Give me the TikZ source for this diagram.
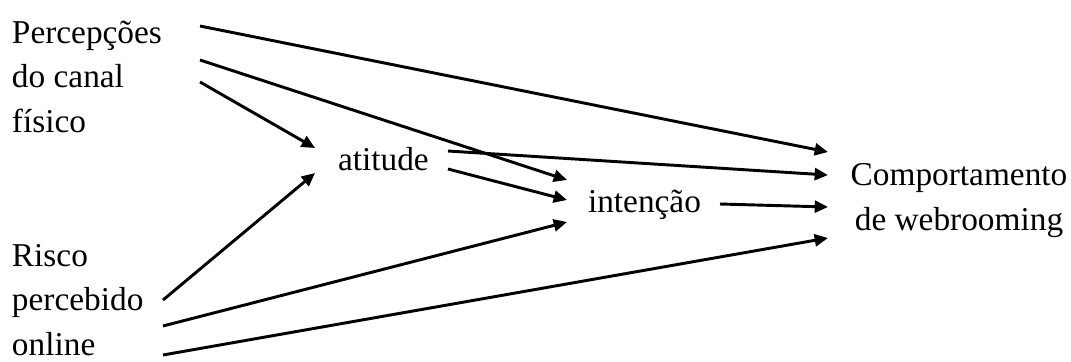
\documentclass[tikz,border=0pt]{standalone}
\usepackage{fontspec}
\setmainfont{Liberation Serif}
\usetikzlibrary{arrows.meta}
\begin{document}
\begin{tikzpicture}[x=0.75pt,y=-0.75pt,
  lbl/.style={inner sep=0pt,outer sep=0pt,font=\fontsize{25pt}{33.3pt}\selectfont},
  conn/.style={line width=2.2pt,-{Triangle[length=10pt,width=9pt]}}]
\useasboundingbox (0,0) rectangle (1071,361);
\node[lbl,anchor=base west,align=left] (perc) at (12,132) {Percepções\\do canal\\físico};
\node[lbl,anchor=base west,align=left] (risco) at (12,355) {Risco\\percebido\\online};
\node[lbl,anchor=base west] (atit) at (338,170) {atitude};
\node[lbl,anchor=base west] (int) at (588,212) {intenção};
\node[lbl,anchor=base,align=center] (comp) at (959,230) {Comportamento\\de webrooming};
% connector end points
\coordinate (pa) at (200,26);
\coordinate (pb) at (200,60);
\coordinate (pc) at (200,82);
\coordinate (ra) at (163,300);
\coordinate (rb) at (163,326);
\coordinate (rc) at (163,355);
\coordinate (aa) at (448,151);
\coordinate (ab) at (448,169);
\coordinate (ia) at (720,204);
\coordinate (ai) at (315,148);
\coordinate (ar) at (315,173);
\coordinate (ip) at (567,180);
\coordinate (ii) at (567,200);
\coordinate (ir) at (567,222);
\coordinate (cp) at (828,152);
\coordinate (ca) at (828,175);
\coordinate (ci) at (828,207);
\coordinate (cr) at (828,238);
\draw[conn] (pa) -- (cp);
\draw[conn] (pb) -- (ip);
\draw[conn] (pc) -- (ai);
\draw[conn] (ra) -- (ar);
\draw[conn] (rb) -- (ir);
\draw[conn] (rc) -- (cr);
\draw[conn] (aa) -- (ca);
\draw[conn] (ab) -- (ii);
\draw[conn] (ia) -- (ci);
\end{tikzpicture}
\end{document}
